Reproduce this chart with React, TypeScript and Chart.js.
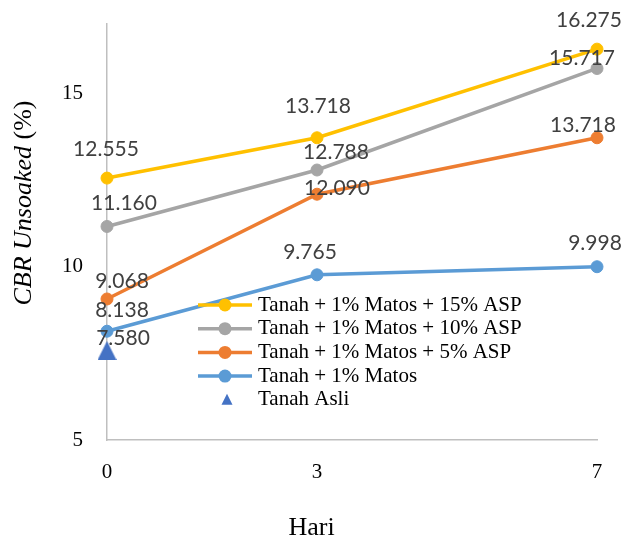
import React, { useEffect, useRef } from "react";
import { Chart, registerables } from "chart.js";

Chart.register(...registerables);

// ---- data ----
const days = [0, 3, 7];
const seriesNames = [
  "Tanah + 1% Matos + 15% ASP",
  "Tanah + 1% Matos + 10% ASP",
  "Tanah + 1% Matos + 5% ASP",
  "Tanah + 1% Matos",
  "Tanah Asli",
];
const asp15 = [12.555, 13.718, 16.275];
const asp10 = [11.16, 12.788, 15.717];
const asp5 = [9.068, 12.09, 13.718];
const matos = [8.138, 9.765, 9.998];
const tanahAsliDays = [0];
const tanahAsli = [7.58];
const yTicks = [5, 10, 15];
const xTicks = [0, 3, 7];

// ---- styles / layout ----
const colors = ["#FFC000", "#A5A5A5", "#ED7D31", "#5B9BD5", "#4472C4"];
const SERIF = "'Liberation Serif', 'Times New Roman', serif";
const LABEL_FONT = "21px Lato, 'Open Sans', sans-serif";
// data label offsets (dx, dy) from each point, in px
const labelOffsets = [
  [[-1, -30], [1, -32], [-8, -30]],
  [[17, -24], [19, -19], [-15, -11]],
  [[15, -18], [20, -7], [-14, -13]],
  [[15, -22], [-7, -23], [-2, -24]],
  [[16, -13]],
];

function makeTriangle(w: number, h: number, color: string) {
  const c = document.createElement("canvas");
  c.width = w;
  c.height = h;
  const g = c.getContext("2d")!;
  g.fillStyle = color;
  g.beginPath();
  g.moveTo(w / 2, 0);
  g.lineTo(w, h);
  g.lineTo(0, h);
  g.closePath();
  g.fill();
  return c;
}

const dataLabelPlugin = {
  id: "dataLabels",
  afterDatasetsDraw(chart: any) {
    const ctx = chart.ctx;
    ctx.save();
    ctx.font = LABEL_FONT;
    ctx.fillStyle = "#404040";
    ctx.textAlign = "center";
    ctx.textBaseline = "alphabetic";
    chart.data.datasets.forEach((ds: any, i: number) => {
      const meta = chart.getDatasetMeta(i);
      meta.data.forEach((el: any, j: number) => {
        const v = ds.data[j].y;
        const off = labelOffsets[i][j];
        ctx.fillText(v.toFixed(3), el.x + off[0], el.y + off[1] + 7.5);
      });
    });
    ctx.restore();
  },
};

const legendPlugin = {
  id: "customLegend",
  afterDraw(chart: any) {
    const ctx = chart.ctx;
    const a = chart.chartArea;
    const x0 = a.left + 91;
    const y0 = a.top + 281;
    const step = 23.7;
    ctx.save();
    ctx.font = `21px ${SERIF}`;
    ctx.textBaseline = "middle";
    ctx.textAlign = "left";
    seriesNames.forEach((name, i) => {
      const y = y0 + i * step;
      const col = colors[i];
      if (i < 4) {
        ctx.strokeStyle = col;
        ctx.lineWidth = 3.5;
        ctx.beginPath();
        ctx.moveTo(x0, y);
        ctx.lineTo(x0 + 54, y);
        ctx.stroke();
        ctx.fillStyle = col;
        ctx.beginPath();
        ctx.arc(x0 + 27, y, 6.5, 0, Math.PI * 2);
        ctx.fill();
      } else {
        ctx.fillStyle = col;
        ctx.beginPath();
        ctx.moveTo(x0 + 29, y - 6);
        ctx.lineTo(x0 + 34.5, y + 5);
        ctx.lineTo(x0 + 23.5, y + 5);
        ctx.closePath();
        ctx.fill();
      }
      ctx.fillStyle = "#000";
      ctx.fillText(name, x0 + 60, y);
    });
    ctx.restore();
  },
};

const titlePlugin = {
  id: "axisTitles",
  afterDraw(chart: any) {
    const ctx = chart.ctx;
    const a = chart.chartArea;
    ctx.save();
    ctx.fillStyle = "#000";
    // x title
    ctx.font = `26px ${SERIF}`;
    ctx.textAlign = "center";
    ctx.textBaseline = "alphabetic";
    ctx.fillText("Hari", chart.width / 2, 535);
    // y title
    ctx.translate(24, a.top + 179);
    ctx.rotate(-Math.PI / 2);
    const p1 = "CBR Unsoaked ";
    const p2 = "(%)";
    ctx.font = `italic 26px ${SERIF}`;
    const w1 = ctx.measureText(p1).width;
    ctx.font = `26px ${SERIF}`;
    const w2 = ctx.measureText(p2).width;
    const start = -(w1 + w2) / 2;
    ctx.textAlign = "left";
    ctx.textBaseline = "middle";
    ctx.font = `italic 26px ${SERIF}`;
    ctx.fillText(p1, start, 0);
    ctx.font = `26px ${SERIF}`;
    ctx.fillText(p2, start + w1, 0);
    ctx.restore();
  },
};

function toPoints(xs: number[], ys: number[]) {
  return xs.map((x, i) => ({ x, y: ys[i] }));
}

function zeroPad(s: any) {
  s.paddingTop = 0;
  s.paddingBottom = 0;
  s.paddingLeft = 0;
  s.paddingRight = 0;
}

export default function App() {
  const ref = useRef<HTMLCanvasElement | null>(null);

  useEffect(() => {
    if (!ref.current) return;
    const lineSeries = [asp15, asp10, asp5, matos];
    const datasets: any[] = lineSeries.map((vals, i) => ({
      label: seriesNames[i],
      data: toPoints(days, vals),
      borderColor: colors[i],
      backgroundColor: colors[i],
      borderWidth: 3.5,
      pointRadius: 6,
      pointBorderWidth: 1,
      pointBackgroundColor: colors[i],
      pointBorderColor: colors[i],
      showLine: true,
      clip: false,
      tension: 0,
    }));
    datasets.push({
      label: seriesNames[4],
      data: toPoints(tanahAsliDays, tanahAsli),
      showLine: false,
      pointStyle: makeTriangle(19, 19, colors[4]),
      pointRadius: 10,
      backgroundColor: colors[4],
      borderColor: colors[4],
      clip: false,
    });

    const chart = new Chart(ref.current, {
      type: "scatter",
      data: { datasets },
      options: {
        animation: false,
        responsive: false,
        maintainAspectRatio: false,
        layout: { autoPadding: false, padding: { top: 24, right: 26, left: 0, bottom: 0 } },
        plugins: {
          legend: { display: false },
          tooltip: { enabled: false },
          title: { display: false },
        },
        scales: {
          x: {
            type: "linear",
            min: 0,
            max: 7,
            afterBuildTicks: (s: any) => {
              s.ticks = xTicks.map((v) => ({ value: v }));
            },
            afterFit: (s: any) => {
              s.height = 98;
              zeroPad(s);
            },
            grid: { display: false, drawTicks: false },
            border: { display: true, color: "#BFBFBF", width: 1.5 },
            ticks: {
              padding: 20,
              color: "#000",
              font: { family: SERIF, size: 21 },
              maxRotation: 0,
            },
          },
          y: {
            type: "linear",
            min: 5,
            max: 17,
            afterBuildTicks: (s: any) => {
              s.ticks = yTicks.map((v) => ({ value: v }));
            },
            afterFit: (s: any) => {
              s.width = 107;
              zeroPad(s);
            },
            grid: { display: false, drawTicks: false },
            border: { display: true, color: "#BFBFBF", width: 1.5 },
            ticks: {
              padding: 24,
              color: "#000",
              font: { family: SERIF, size: 21 },
            },
          },
        },
      } as any,
      plugins: [dataLabelPlugin, legendPlugin, titlePlugin],
    });
    return () => chart.destroy();
  }, []);

  return (
    <div style={{ position: "fixed", left: 0, top: 0, width: 623, height: 538, background: "#fff" }}>
      <canvas ref={ref} width={623} height={538} style={{ width: 623, height: 538, display: "block" }} />
    </div>
  );
}
